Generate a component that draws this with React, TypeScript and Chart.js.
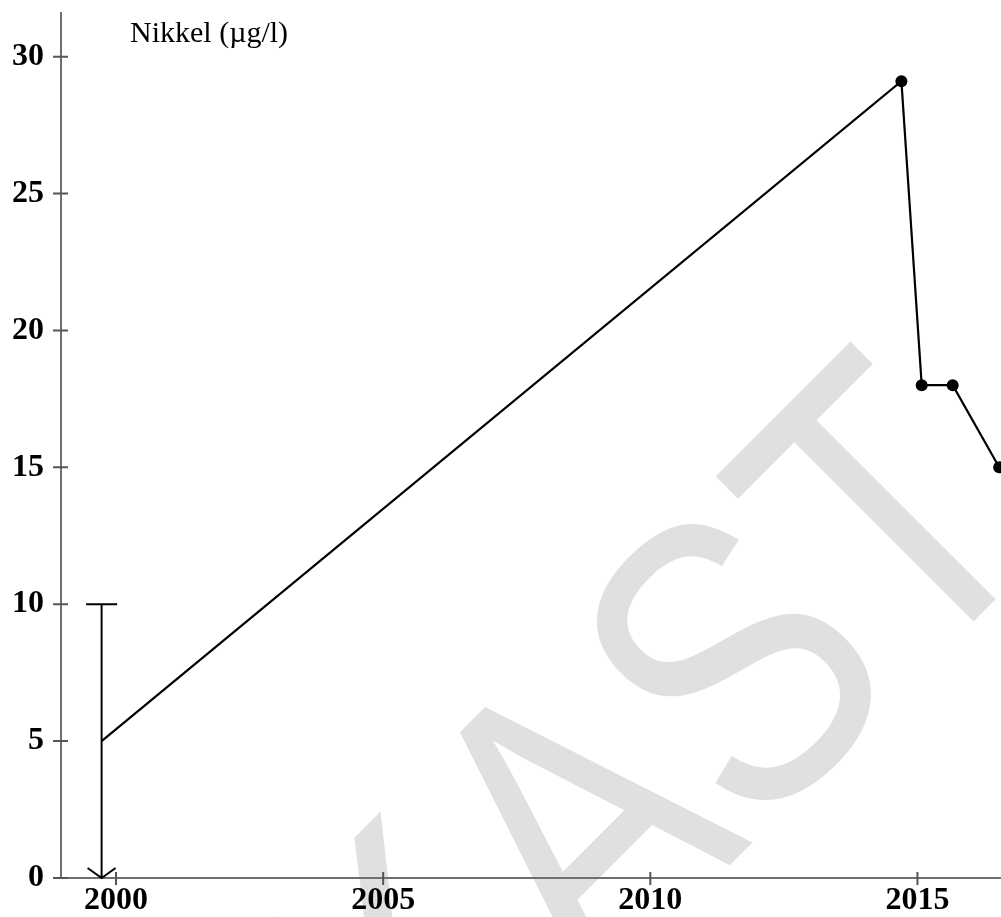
import React, { useEffect, useRef } from "react";
import { Chart, registerables } from "chart.js";

Chart.register(...registerables);

// ---- data ----
const years = [1999.73, 2014.7, 2015.08, 2015.66, 2016.53];
const nickel = [5, 29.1, 18, 18, 15];
const errorYear = 1999.73;
const errorLow = 0;
const errorHigh = 10;
const xTicks = [2000, 2005, 2010, 2015];
const yTicks = [0, 5, 10, 15, 20, 25, 30];
const xMin = 1998.97;
const xMax = 2016.564;
const yMin = 0;
const yMax = 31.63;
const titleText = "Nikkel (µg/l)";
const watermarkText = "KAST";

const SERIF = '"Liberation Serif", "Times New Roman", serif';

const zeroPad = (s: any) => {
  s.paddingLeft = 0;
  s.paddingRight = 0;
  s.paddingTop = 0;
  s.paddingBottom = 0;
};

const decorPlugin = {
  id: "decor",
  beforeDraw(chart: any) {
    const ctx = chart.ctx as CanvasRenderingContext2D;
    ctx.save();
    ctx.fillStyle = "#ffffff";
    ctx.fillRect(0, 0, chart.width, chart.height);
    // watermark
    ctx.translate(594, 1001);
    ctx.rotate(-Math.PI / 4);
    ctx.scale(0.83, 1.02);
    ctx.font = '406px "Liberation Sans", Arial, sans-serif';
    ctx.fillStyle = "#e0e0e0";
    ctx.textBaseline = "alphabetic";
    ctx.textAlign = "left";
    const wFirst = ctx.measureText(watermarkText.charAt(0)).width;
    ctx.fillText(watermarkText, -wFirst, 0);
    ctx.restore();
  },
  afterDraw(chart: any) {
    const ctx = chart.ctx as CanvasRenderingContext2D;
    const { left, right, top, bottom } = chart.chartArea;
    const xs = chart.scales.x;
    const ys = chart.scales.y;
    ctx.save();
    // axes
    ctx.strokeStyle = "#6f6f6f";
    ctx.lineWidth = 2;
    ctx.beginPath();
    ctx.moveTo(left, top);
    ctx.lineTo(left, bottom + 1);
    ctx.moveTo(left - 6, bottom);
    ctx.lineTo(right, bottom);
    ctx.stroke();
    // ticks
    ctx.strokeStyle = "#555555";
    ctx.beginPath();
    yTicks.forEach((v) => {
      const py = ys.getPixelForValue(v);
      ctx.moveTo(left - 8, py);
      ctx.lineTo(left + 7, py);
    });
    xTicks.forEach((v) => {
      const px = xs.getPixelForValue(v);
      ctx.moveTo(px, bottom - 6);
      ctx.lineTo(px, bottom + 7);
    });
    ctx.stroke();
    // error bar with arrow
    const ex = xs.getPixelForValue(errorYear);
    const eTop = ys.getPixelForValue(errorHigh);
    const eBot = ys.getPixelForValue(errorLow);
    ctx.strokeStyle = "#000000";
    ctx.lineWidth = 2;
    ctx.beginPath();
    ctx.moveTo(ex, eTop);
    ctx.lineTo(ex, eBot);
    ctx.moveTo(ex - 15.5, eTop);
    ctx.lineTo(ex + 15.5, eTop);
    ctx.moveTo(ex - 14, eBot - 10);
    ctx.lineTo(ex, eBot);
    ctx.lineTo(ex + 14, eBot - 10);
    ctx.stroke();
    // title
    ctx.fillStyle = "#000000";
    ctx.font = "30px " + SERIF;
    ctx.textAlign = "left";
    ctx.textBaseline = "alphabetic";
    ctx.fillText(titleText, 130, 42);
    ctx.restore();
  },
};

export default function App() {
  const ref = useRef<HTMLCanvasElement | null>(null);
  useEffect(() => {
    if (!ref.current) return;
    const chart = new Chart(ref.current, {
      type: "line",
      data: {
        datasets: [
          {
            data: years.map((x, i) => ({ x, y: nickel[i] })),
            borderColor: "#000000",
            borderWidth: 2.2,
            backgroundColor: "#000000",
            pointBackgroundColor: "#000000",
            pointBorderColor: "#000000",
            pointRadius: (c: any) => (c.dataIndex === 0 ? 0 : 6),
            pointBorderWidth: 0,
            tension: 0,
            fill: false,
            clip: false,
          },
        ],
      },
      options: {
        animation: false,
        responsive: false,
        maintainAspectRatio: false,
        layout: { autoPadding: false, padding: { top: 12, left: 0, right: 0, bottom: 0 } },
        plugins: { legend: { display: false }, tooltip: { enabled: false } },
        scales: {
          x: {
            type: "linear",
            min: xMin,
            max: xMax,
            afterBuildTicks: (s: any) => {
              s.ticks = xTicks.map((v) => ({ value: v }));
            },
            afterFit: (s: any) => {
              s.height = 39;
              zeroPad(s);
            },
            grid: { display: false, drawTicks: false },
            border: { display: false },
            ticks: {
              autoSkip: false,
              maxRotation: 0,
              padding: 4,
              color: "#000000",
              font: { family: SERIF, size: 32, weight: "bold" },
              callback: (v: any) => String(v),
            },
          },
          y: {
            type: "linear",
            min: yMin,
            max: yMax,
            afterBuildTicks: (s: any) => {
              s.ticks = yTicks.map((v) => ({ value: v }));
            },
            afterFit: (s: any) => {
              s.width = 61;
              zeroPad(s);
            },
            grid: { display: false, drawTicks: false },
            border: { display: false },
            ticks: {
              autoSkip: false,
              padding: 17,
              color: "#000000",
              font: { family: SERIF, size: 32, weight: "bold" },
              callback: (v: any) => String(v),
            },
          },
        },
      },
      plugins: [decorPlugin],
    } as any);
    return () => chart.destroy();
  }, []);
  return (
    <div style={{ position: "absolute", left: 0, top: 0, width: 1001, height: 917, overflow: "hidden", background: "#fff" }}>
      <canvas ref={ref} width={1001} height={917} style={{ display: "block" }} />
    </div>
  );
}
